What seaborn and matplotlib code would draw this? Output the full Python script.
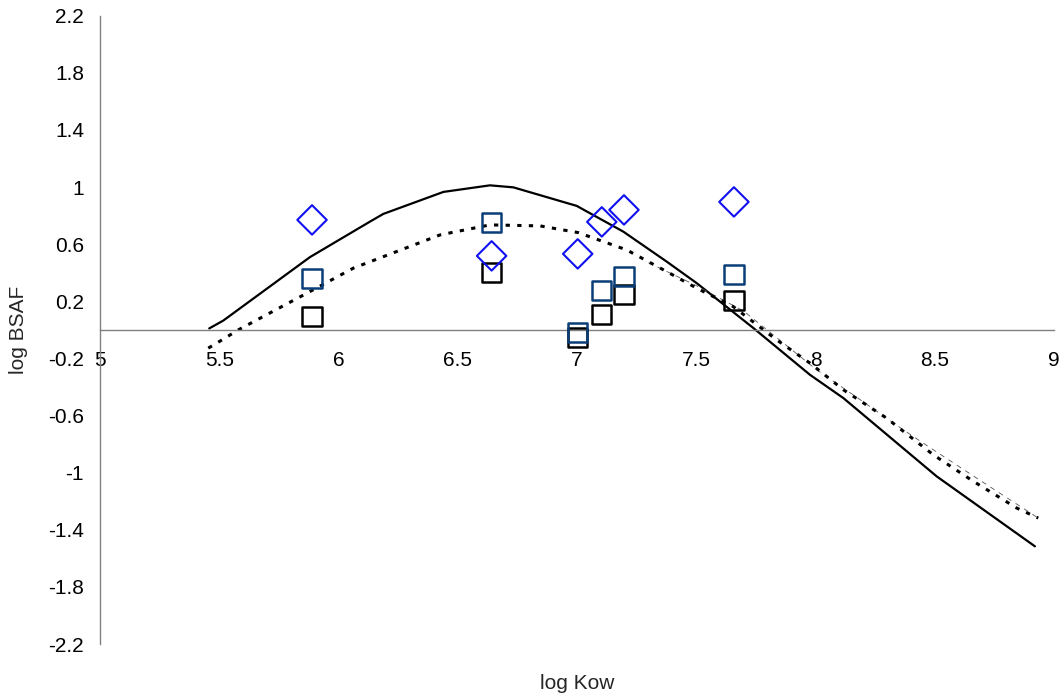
import numpy as np
import pandas as pd
import matplotlib
matplotlib.use("Agg")
import matplotlib.pyplot as plt
import seaborn as sns

# Measured log Kow for the congeners
kow_pts = [5.889, 6.642, 7.003, 7.104, 7.197, 7.658]
# Measured log BSAF per data set
bsaf_diamond = [0.77, 0.518, 0.532, 0.756, 0.84, 0.896]
bsaf_navy_sq = [0.359, 0.751, -0.019, 0.275, 0.373, 0.387]
bsaf_black_sq = [0.093, 0.401, -0.056, 0.11, 0.245, 0.205]

# Model curve (solid)
model_x = [5.458, 5.517, 5.88, 6.132, 6.188, 6.44, 6.635, 6.733, 6.999, 7.04,
           7.194, 7.376, 7.502, 7.74, 7.977, 8.117, 8.508, 8.92]
model_y = [0.01, 0.065, 0.509, 0.758, 0.812, 0.966, 1.012, 0.998, 0.868, 0.83,
           0.688, 0.478, 0.327, 0.012, -0.315, -0.478, -1.026, -1.516]

# Model curve (dotted)
model2_x = [5.454, 5.517, 5.58, 5.88, 6.062, 6.426, 6.635, 6.845, 7.005, 7.208,
            7.376, 7.502, 7.655, 7.837, 7.977, 8.117, 8.298, 8.494, 8.662,
            8.844, 8.934]
model2_y = [-0.128, -0.065, 0.0, 0.268, 0.432, 0.665, 0.735, 0.728, 0.681, 0.56,
            0.408, 0.292, 0.163, -0.07, -0.233, -0.42, -0.618, -0.875, -1.061,
            -1.248, -1.318]

# Thin companion trace of the dotted curve
trace_x = [7.3, 7.5, 7.7, 8.005, 8.158, 8.368, 8.494, 8.76, 8.934]
trace_y = [0.47, 0.31, 0.13, -0.28, -0.455, -0.70, -0.84, -1.13, -1.318]

x_ticks = [5, 5.5, 6, 6.5, 7, 7.5, 8, 8.5, 9]
y_ticks = [-2.2, -1.8, -1.4, -1.0, -0.6, -0.2, 0.2, 0.6, 1.0, 1.4, 1.8, 2.2]

sns.set_style("white")
plt.rcParams["font.family"] = ["Liberation Sans", "DejaVu Sans"]

fig = plt.figure(figsize=(10.63, 7.0), dpi=100)
ax = fig.add_axes([100 / 1063, 56 / 700, 954 / 1063, 628.3 / 700])

sns.lineplot(x=model_x, y=model_y, ax=ax, color="black", linewidth=1.6,
             sort=False, estimator=None)
sns.lineplot(x=trace_x, y=trace_y, ax=ax, color="#555555", linewidth=0.6,
             sort=False, estimator=None, dashes=False, linestyle=(0, (6, 6)))
sns.lineplot(x=model2_x, y=model2_y, ax=ax, color="black", linewidth=2.2,
             sort=False, estimator=None, linestyle=(0, (1.4, 2.4)))

sns.scatterplot(x=kow_pts, y=bsaf_black_sq, ax=ax, marker="s", s=190,
                facecolor="none", edgecolor="black", linewidth=1.8, zorder=4)
sns.scatterplot(x=kow_pts, y=bsaf_navy_sq, ax=ax, marker="s", s=190,
                facecolor="none", edgecolor="#0B3D78", linewidth=1.8, zorder=5)
sns.scatterplot(x=kow_pts, y=bsaf_diamond, ax=ax, marker="D", s=225,
                facecolor="none", edgecolor="#1010F0", linewidth=1.5, zorder=6)

ax.set_xlim(5, 9)
ax.set_ylim(-2.2, 2.2)
ax.set_xticks(x_ticks)
ax.set_yticks(y_ticks)
ax.set_xticklabels([f"{v:g}" for v in x_ticks])
ax.set_yticklabels([f"{v:g}" for v in y_ticks])

for side in ("top", "right"):
    ax.spines[side].set_visible(False)
ax.spines["bottom"].set_position(("data", 0))
for side in ("left", "bottom"):
    ax.spines[side].set_color("#808080")
    ax.spines[side].set_linewidth(1.0)

ax.tick_params(axis="x", direction="out", length=5, width=1, color="#808080",
               pad=10, labelsize=15, labelcolor="black")
ax.tick_params(axis="y", direction="out", length=4.5, width=1, color="#808080",
               pad=7, labelsize=15, labelcolor="black")

ax.set_xlabel("log Kow", fontsize=15)
ax.set_ylabel("log BSAF", fontsize=15)
ax.xaxis.set_label_coords(0.5, -0.048)
ax.yaxis.set_label_coords(-0.075, 0.5)

fig.savefig("out.png", dpi=100)
